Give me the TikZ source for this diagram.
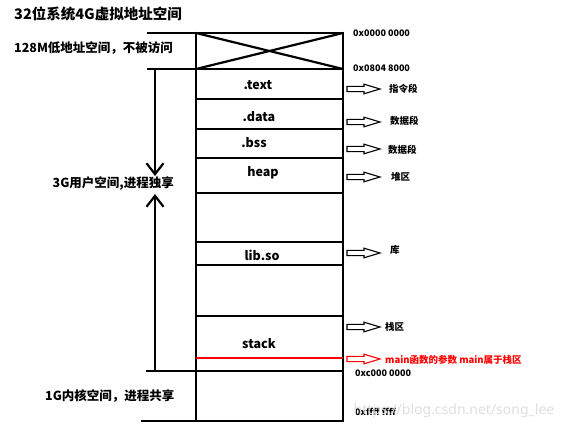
\documentclass[tikz,border=0pt]{standalone}
\usepackage{fontspec}
\setmainfont{Noto Sans CJK SC}
\newfontfamily\wmfont{Noto Sans}
\usetikzlibrary{arrows.meta}
\begin{document}
\begin{tikzpicture}[x=1pt,y=-1pt,
  boxline/.style={line width=2.2pt},
  seglabel/.style={font=\bfseries\fontsize{12.5}{14}\selectfont, inner sep=0pt},
  addr/.style={font=\bfseries\fontsize{9}{10}\selectfont, anchor=west, inner sep=0pt},
  note/.style={font=\bfseries\fontsize{9.5}{10}\selectfont, anchor=west, inner sep=0pt},
  sidelabel/.style={font=\bfseries\fontsize{12.5}{14}\selectfont, anchor=west, inner sep=0pt},
  hollowarrow/.pic={\draw[line width=1.1pt, line join=miter, pic actions]
     (0,-2.6) -- (17,-2.6) -- (17,-4.8) -- (33,0) -- (17,4.8) -- (17,2.6) -- (0,2.6) -- cycle;},
  barb/.style={boxline, -{Straight Barb[length=11pt,width=17pt]}},
]
\useasboundingbox (0,0) rectangle (579,430);

% title and side texts
\node[sidelabel, font=\bfseries\fontsize{14.5}{16}\selectfont] (title) at (14,14) {32位系统4G虚拟地址空间};
\node[sidelabel] (low) at (14,48) {128M低地址空间，不被访问};
\node[sidelabel, anchor=east] (user) at (174,184) {3G用户空间,进程独享};
\node[sidelabel] (kernel) at (45,396) {1G内核空间，进程共享};

% memory box
\coordinate (tl) at (196,33);
\coordinate (br) at (343,421);
\draw[boxline] (tl) rectangle (br);
\foreach \yy in {69,99,129,158,193,242,265,316,371}
  \draw[boxline] (196,\yy) -- (343,\yy);
\draw[boxline] (196,33) -- (343,69) (196,69) -- (343,33);
\draw[line width=2pt, red] (196,358) -- (343,358);

% left ticks
\draw[boxline] (147,33) -- (196,33);
\draw[boxline] (147,69) -- (196,69);
\draw[boxline] (146,371) -- (196,371);
\draw[boxline] (141,421) -- (196,421);
\coordinate (uTop) at (155,69);
\coordinate (uMidA) at (155,176);
\coordinate (uMidB) at (155,194);
\coordinate (uBot) at (155,371);
\draw[barb] (uTop) -- (uMidA);
\draw[barb] (uBot) -- (uMidB);

% segment labels
\node[seglabel] (text) at (258,85) {.text};
\node[seglabel] (data) at (259,117) {.data};
\node[seglabel] (bss) at (254,143) {.bss};
\node[seglabel] (heap) at (263,173) {heap};
\node[seglabel] (lib) at (262,255) {lib.so};
\node[seglabel] (stack) at (259,344) {stack};

% addresses
\node[addr] (ad0) at (353,33) {0x0000 0000};
\node[addr] (ad1) at (353,68) {0x0804 8000};
\node[addr] (ad2) at (355,373) {0xc000 0000};
\node[addr] (ad3) at (355,412) {0xffff ffff};

% hollow arrows and notes
\pic (a1) at (347,89) {hollowarrow};
\pic (a2) at (347,122) {hollowarrow};
\pic (a3) at (347,149) {hollowarrow};
\pic (a4) at (347,177) {hollowarrow};
\pic (a5) at (347,253) {hollowarrow};
\pic (a6) at (347,327) {hollowarrow};
\pic[red] (a7) at (347,359) {hollowarrow};
\node[note] (n1) at (389,89) {指令段};
\node[note] (n2) at (390,121) {数据段};
\node[note] (n3) at (388,150) {数据段};
\node[note] (n4) at (391,177) {堆区};
\node[note] (n5) at (390,250) {库};
\node[note] (n6) at (385,327) {栈区};
\node[note, text=red] (n7) at (385,360) {main函数的参数 main属于栈区};

% watermark
\node[font=\wmfont\fontsize{14}{16}\selectfont, text=gray!25, inner sep=0pt] (wm) at (454,411) {https://blog.csdn.net/song\_lee};
\end{tikzpicture}
\end{document}
